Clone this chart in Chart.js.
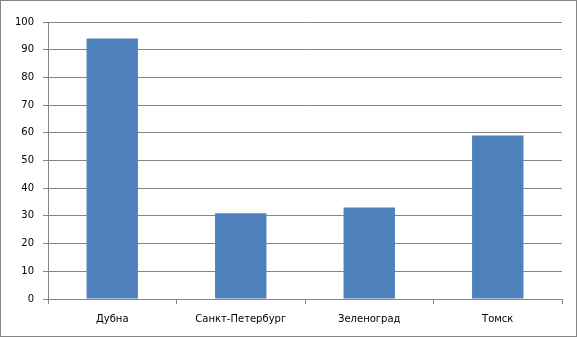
<!DOCTYPE html>
<html>
<head>
<meta charset="utf-8">
<script src="https://cdn.jsdelivr.net/npm/chart.js@4"></script>
<style>
  body { margin: 0; background: #fff; }
  #wrap { width: 577px; height: 337px; }
</style>
</head>
<body>
<div id="wrap"><canvas id="chart" width="577" height="337"></canvas></div>
<script>
const cities = ["Дубна", "Санкт-Петербург", "Зеленоград", "Томск"];
const values = [94, 31, 33, 59];
const yTicks = [0, 10, 20, 30, 40, 50, 60, 70, 80, 90, 100];

const gridColor = "#868686";

// outer frame round the whole chart
const framePlugin = {
    id: "frame",
    afterDraw(chart) {
        const ctx = chart.ctx;
        ctx.save();
        ctx.strokeStyle = gridColor;
        ctx.lineWidth = 1;
        ctx.strokeRect(0.5, 0.5, chart.width - 1, chart.height - 1);
        ctx.restore();
    }
};

new Chart(document.getElementById("chart"), {
    type: "bar",
    data: {
        labels: cities,
        datasets: [{
            data: values,
            backgroundColor: "#4F81BD",
            borderWidth: 0,
            barPercentage: 0.4,
            categoryPercentage: 1.0,
        }]
    },
    plugins: [framePlugin],
    options: {
        responsive: false,
        animation: false,
        layout: { padding: { left: 0, top: 22, right: 15, bottom: 0 } },
        plugins: {
            legend: { display: false },
            tooltip: { enabled: false },
        },
        scales: {
            x: {
                afterFit: (s) => { s.height = 38; },
                grid: {
                    offset: true,
                    drawOnChartArea: false,
                    color: gridColor,
                    tickLength: 5,
                },
                border: { color: gridColor },
                ticks: {
                    color: "#000",
                    padding: 9,
                    font: { family: "DejaVu Sans", size: 10 },
                },
            },
            y: {
                min: 0,
                max: 100,
                afterFit: (s) => { s.width = 48; },
                afterBuildTicks: (s) => { s.ticks = yTicks.map((v) => ({ value: v })); },
                grid: { color: gridColor, tickLength: 5 },
                border: { color: gridColor },
                ticks: {
                    color: "#000",
                    padding: 9,
                    font: { family: "DejaVu Sans", size: 10 },
                },
            },
        },
    },
});
</script>
</body>
</html>
